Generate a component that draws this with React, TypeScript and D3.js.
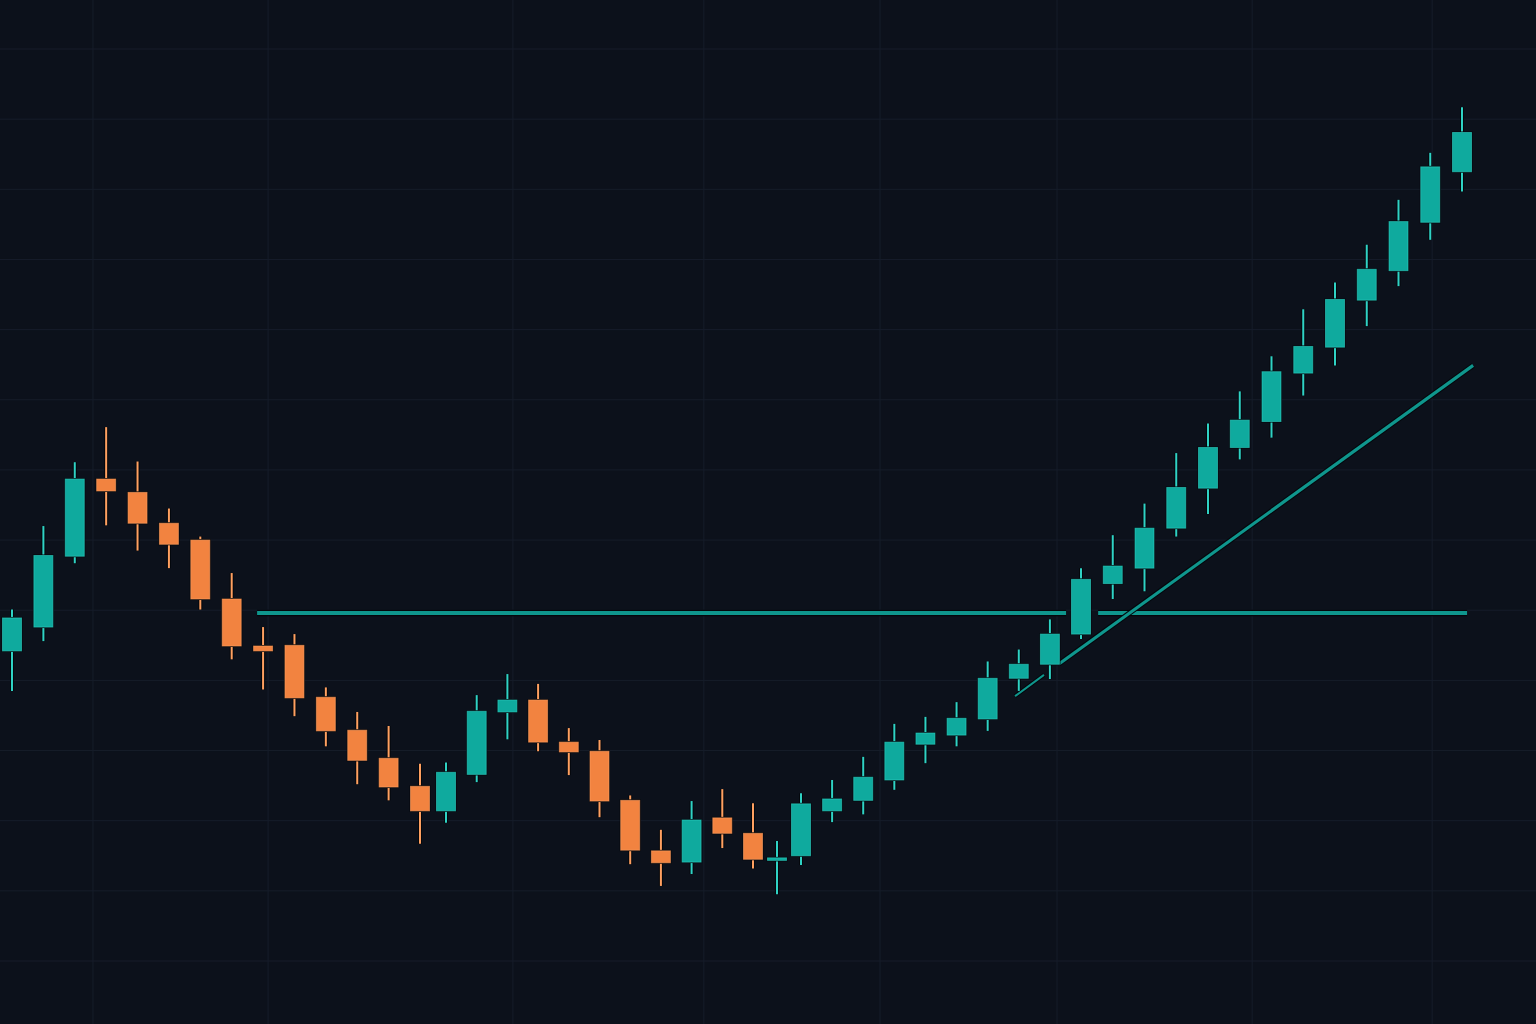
import * as d3 from "d3"

// OHLC, one entry per candle
const opens = [144.2, 147.6, 157.7, 168.7, 166.8, 162.4, 160.0, 151.6, 144.9, 145.0, 137.6, 132.9, 128.9, 124.9, 121.4, 126.6, 135.5, 137.2, 131.2, 129.9, 122.9, 115.7, 114.1, 120.4, 118.2, 114.6, 115.0, 121.4, 122.9, 125.8, 130.9, 132.2, 134.5, 140.3, 142.3, 146.6, 153.8, 156.0, 161.7, 167.4, 173.2, 176.9, 183.8, 187.5, 194.2, 198.4, 205.3, 212.5]
const highs = [150.1, 162.0, 171.1, 176.1, 171.2, 164.5, 160.5, 155.3, 147.6, 146.6, 139.0, 135.5, 133.5, 128.1, 128.3, 137.9, 140.9, 139.5, 133.2, 131.5, 123.6, 118.7, 122.8, 124.5, 122.5, 117.1, 123.9, 125.8, 129.1, 133.8, 134.8, 136.9, 142.7, 144.4, 148.7, 156.0, 160.7, 165.2, 172.4, 176.6, 181.2, 186.2, 192.9, 196.7, 202.1, 208.5, 215.2, 221.7]
const lows = [138.5, 145.6, 156.7, 162.1, 158.5, 156.0, 150.1, 143.0, 138.7, 134.9, 130.6, 125.2, 122.9, 116.7, 119.7, 125.5, 131.6, 129.9, 126.5, 120.5, 113.8, 110.7, 112.4, 116.1, 113.2, 109.5, 113.7, 119.8, 120.9, 124.4, 128.2, 130.6, 132.8, 138.5, 140.2, 145.9, 151.6, 152.7, 160.5, 163.7, 171.5, 174.6, 180.6, 184.9, 190.5, 196.2, 202.8, 209.7]
const closes = [148.9, 157.8, 168.7, 167.0, 162.4, 159.4, 151.6, 144.9, 144.2, 137.5, 132.8, 128.6, 124.8, 121.4, 126.9, 135.6, 137.2, 131.2, 129.8, 122.8, 115.8, 114.0, 120.1, 118.2, 114.5, 114.7, 122.4, 123.1, 126.2, 131.2, 132.5, 134.6, 140.3, 142.3, 146.6, 154.4, 156.3, 161.7, 167.5, 173.2, 177.1, 184.0, 187.6, 194.3, 198.6, 205.4, 213.2, 218.1]

// grid levels (price) and time grid (candle index)
const priceGrid = d3.range(100, 231, 10)
const timeGrid = [2.58, 8.16, 16.18, 22.4, 28.54, 34.23, 40.39, 46.06]

// neckline level and its two drawn pieces (candle index)
const necklineLevel = 149.6
const necklineSegments = [
  [7.81, 34.52],
  [35.54, 47.16],
]

// trendline end points [index, price] and the drawn pieces [from, to, width]
const trendStart = [32.88, 137.75]
const trendEnd = [47.35, 184.9]
const trendSegments = [
  [32.88, 33.81, 2],
  [34.29, 47.35, 3.2],
]

const W = 1536
const H = 1024
const BG = "#0c111b"
const UP = "#0faa9e"
const UP_EDGE = "#2fd2c4"
const DOWN = "#f28340"
const DOWN_EDGE = "#ffa060"
const LINE = "#0f968d"

export default function App() {
  // candle spacing is slightly uneven in the picture, so piecewise time scale
  const x = d3
    .scaleLinear()
    .domain([0, 13, 14, 24, 25, 26, 35, 47])
    .range([12, 420, 446, 753, 777, 801, 1081, 1462])
  const y = d3.scaleLinear().domain([100, 230]).range([961, 49])
  const bodyW = 19

  const trendPrice = d3
    .scaleLinear()
    .domain([trendStart[0], trendEnd[0]])
    .range([trendStart[1], trendEnd[1]])

  const candles = opens.map((o, i) => ({
    i,
    o,
    h: highs[i],
    l: lows[i],
    c: closes[i],
    up: closes[i] >= o,
  }))

  return (
    <svg
      width={W}
      height={H}
      style={{ position: "fixed", left: 0, top: 0, display: "block" }}
    >
      <rect width={W} height={H} fill={BG} />

      {/* grid */}
      <g stroke="#161d2a" strokeWidth={1}>
        {priceGrid.map(p => (
          <line key={"h" + p} x1={0} x2={W} y1={y(p)} y2={y(p)} />
        ))}
        {timeGrid.map(t => (
          <line key={"v" + t} x1={x(t)} x2={x(t)} y1={0} y2={H} />
        ))}
      </g>

      {/* neckline */}
      {necklineSegments.map(([a, b], k) => (
        <g key={"n" + k}>
          <line x1={x(a)} x2={x(b)} y1={y(necklineLevel)} y2={y(necklineLevel)} stroke="#04070c" strokeWidth={6.5} />
          <line x1={x(a)} x2={x(b)} y1={y(necklineLevel)} y2={y(necklineLevel)} stroke={LINE} strokeWidth={4} />
        </g>
      ))}

      {/* trendline */}
      {trendSegments.map(([a, b, w], k) => (
        <g key={"t" + k}>
          <line x1={x(a)} x2={x(b)} y1={y(trendPrice(a))} y2={y(trendPrice(b))} stroke="#04070c" strokeWidth={w + 2} />
          <line x1={x(a)} x2={x(b)} y1={y(trendPrice(a))} y2={y(trendPrice(b))} stroke={LINE} strokeWidth={w} />
        </g>
      ))}

      {/* candles */}
      {candles.map(d => {
        const cx = x(d.i)
        const top = y(Math.max(d.o, d.c))
        const bot = y(Math.min(d.o, d.c))
        const hgt = Math.max(bot - top, 2.5)
        const fill = d.up ? UP : DOWN
        const edge = d.up ? UP_EDGE : DOWN_EDGE
        return (
          <g key={d.i}>
            <line x1={cx} x2={cx} y1={y(d.h)} y2={y(d.l)} stroke="#04070c" strokeWidth={4} />
            <line x1={cx} x2={cx} y1={y(d.h)} y2={y(d.l)} stroke={edge} strokeWidth={2} />
            <rect x={cx - bodyW / 2 - 1} y={top - 1} width={bodyW + 2} height={hgt + 2} fill="#04070c" />
            <rect
              x={cx - bodyW / 2}
              y={top}
              width={bodyW}
              height={hgt}
              fill={fill}
              stroke={edge}
              strokeWidth={1}
              strokeOpacity={0.6}
            />
          </g>
        )
      })}
    </svg>
  )
}
